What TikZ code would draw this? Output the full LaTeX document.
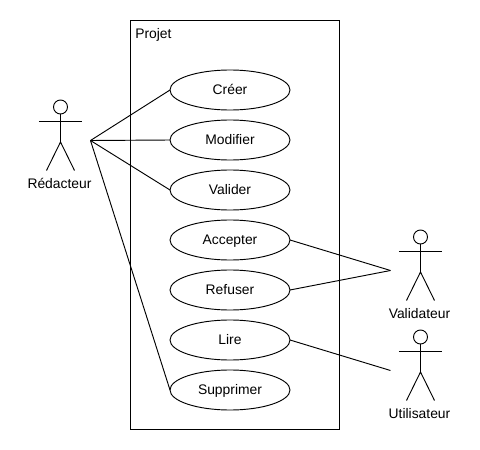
\documentclass[tikz,border=0pt]{standalone}
\usepackage{fontspec}
\setmainfont{Liberation Sans}
\usetikzlibrary{shapes.geometric}
\tikzset{
  usecase/.style={draw,ellipse,minimum width=90pt,minimum height=30pt,inner sep=0pt,outer sep=0pt,line width=0.7pt,text height=9pt,text depth=2.2pt,font=\fontsize{10.4}{12}\selectfont},
  label text/.style={inner sep=0pt,text height=9pt,text depth=2.2pt,font=\fontsize{10.4}{12}\selectfont},
  line/.style={line width=0.7pt},
  head/.style={draw,circle,minimum size=10.5pt,inner sep=0pt,outer sep=0pt,line width=0.7pt}
}
\newcommand{\actorfig}[4]{%
  \node[head] (#1head) at (#2,#3) {};
  \coordinate (#1hip) at (#2,#3+35);
  \coordinate (#1larm) at (#2-21.5,#3+14);
  \coordinate (#1rarm) at (#2+21.5,#3+14);
  \coordinate (#1lleg) at (#2-14,#3+63.5);
  \coordinate (#1rleg) at (#2+14,#3+63.5);
  \draw[line] (#1head.south) -- (#1hip);
  \draw[line] (#1larm) -- (#1rarm);
  \draw[line] (#1lleg) -- (#1hip) -- (#1rleg);
  \node[label text] (#1label) at (#2-1,#3+76.5) {#4};
}
\begin{document}
\begin{tikzpicture}[x=0.75pt,y=-0.75pt]
\useasboundingbox (0,0) rectangle (480,450);
\node[draw,line width=0.7pt,inner sep=0pt,outer sep=0pt,minimum width=156.75pt,minimum height=306.75pt] (projet) at (235,225) {};
\node[label text,anchor=west] (projetlabel) at (135,33.8) {Projet};
\node[usecase] (creer) at (230,90) {Créer};
\node[usecase] (modifier) at (230,140) {Modifier};
\node[usecase] (valider) at (230,190) {Valider};
\node[usecase] (accepter) at (230,240) {Accepter};
\node[usecase] (refuser) at (230,290) {Refuser};
\node[usecase] (lire) at (230,340) {Lire};
\node[usecase] (supprimer) at (230,390) {Supprimer};
\actorfig{red}{60.5}{107}{Rédacteur}
\actorfig{val}{420.5}{237}{Validateur}
\actorfig{uti}{420.5}{337}{Utilisateur}
\coordinate (redend) at (90.5,140.5);
\coordinate (valend) at (390.5,270.5);
\coordinate (utiend) at (390.5,370.5);
\draw[line] (redend) -- (creer.west);
\draw[line] (redend) -- (modifier.west);
\draw[line] (redend) -- (valider.west);
\draw[line] (redend) -- (supprimer.west);
\draw[line] (accepter.east) -- (valend);
\draw[line] (refuser.east) -- (valend);
\draw[line] (lire.east) -- (utiend);
\end{tikzpicture}
\end{document}
